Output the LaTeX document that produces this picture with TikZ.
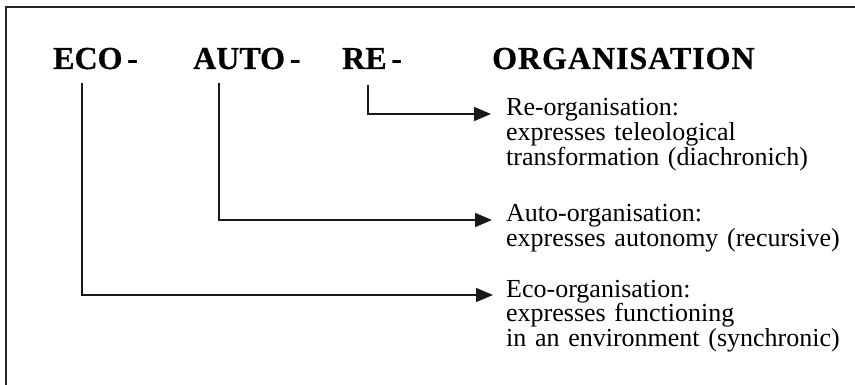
\documentclass[tikz,border=0pt]{standalone}
\usepackage{fontspec}
\setmainfont{Liberation Serif}
\newfontfamily\headfont[FakeBold=0.6]{Liberation Serif Bold}
\newfontfamily\headfontwide[FakeBold=0.6,LetterSpace=3]{Liberation Serif Bold}
\usetikzlibrary{arrows.meta}
\tikzset{
  frameline/.style={line width=1.8pt, black!85},
  head/.style={inner sep=0pt, anchor=base west, font=\fontsize{32}{36}\headfont},
  desc/.style={inner sep=0pt, anchor=base west, align=left, text width=345pt,
    font=\fontsize{26}{21.6}\selectfont},
  conn/.style={line width=1.6pt, black!90, -{Triangle[length=17pt,width=14pt]}},
}
\begin{document}
\begin{tikzpicture}[x=1pt,y=-1pt]
\useasboundingbox (0,0) rectangle (855,385);
\draw[frameline] (6,386) -- (6,7) -- (856,7);
% headers
\node[head] (eco)  at (53,69)  {ECO\hspace{0.15em}-};
\node[head] (auto) at (193,69) {AUTO\hspace{0.15em}-};
\node[head] (re)   at (342,69) {RE\hspace{0.15em}-};
\node[head, font=\fontsize{32}{36}\headfontwide] (org) at (492,69) {ORGANISATION};
% descriptions
\node[desc] (reT)   at (506,116) {Re-organisation:\\expresses teleological\\transformation (diachronich)};
\node[desc] (autoT) at (506,222) {Auto-organisation:\\expresses autonomy (recursive)};
\node[desc] (ecoT)  at (506,297) {Eco-organisation:\\expresses functioning\\in an environment (synchronic)};
% connector start points
\coordinate (reTop)   at (368,85);
\coordinate (autoTop) at (219,83);
\coordinate (ecoTop)  at (82,83);
\coordinate (reTip)   at (491,114);
\coordinate (autoTip) at (492,220);
\coordinate (ecoTip)  at (493,295);
\draw[conn] (reTop) |- (reTip);
\draw[conn] (autoTop) |- (autoTip);
\draw[conn] (ecoTop) |- (ecoTip);
\end{tikzpicture}
\end{document}
